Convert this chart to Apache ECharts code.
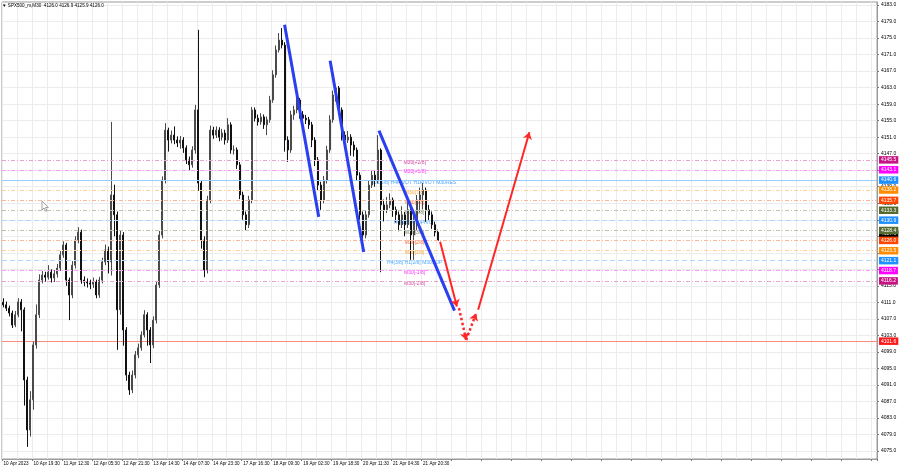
<!DOCTYPE html>
<html>
<head>
<meta charset="utf-8">
<script src="https://cdn.jsdelivr.net/npm/echarts@6/dist/echarts.min.js"></script>
<style>html,body{margin:0;padding:0;background:#fff}#c{width:900px;height:468px}</style>
</head>
<body>
<div id="c"></div>
<script>
// ---------------- data ----------------
const titleText = '▼ SPX500_m,M30  4126.0 4126.9 4125.9 4126.0';
const timeLabels = ['10 Apr 2023','10 Apr 19:30','11 Apr 12:30','12 Apr 05:30','12 Apr 21:30','13 Apr 14:30','14 Apr 07:30','14 Apr 23:30','17 Apr 16:30','18 Apr 09:30','19 Apr 02:30','19 Apr 18:30','20 Apr 11:30','21 Apr 04:30','21 Apr 20:30'];
const yTicks = [4075,4079,4083,4087,4091,4095,4099,4103,4107,4111,4115,4119,4123,4127,4131,4135,4139,4143,4147,4151,4155,4159,4163,4167,4171,4175,4179,4183];
const yMin = 4073.07, yMax = 4183.73;
const slotCount = 292;

const opens = [4111.0,4110.4,4109.6,4108.4,4105.5,4108.0,4111.1,4109.2,4092.2,4080.1,
4087.4,4100.7,4108.0,4116.4,4117.6,4117.1,4118.3,4116.9,4117.9,4119.3,
4122.5,4124.9,4116.4,4112.8,4120.0,4126.1,4128.0,4116.4,4115.9,4115.7,
4115.4,4115.9,4112.8,4116.4,4120.8,4123.7,4120.8,4137.0,4132.2,4109.2,
4127.3,4104.3,4093.4,4089.8,4093.4,4098.3,4100.0,4103.1,4108.0,4104.3,
4100.7,4106.7,4115.2,4127.3,4140.6,4152.7,4150.3,4151.5,4150.3,4149.6,
4150.3,4148.4,4145.5,4144.3,4147.9,4157.6,4139.9,4126.1,4118.8,4135.8,
4152.7,4151.5,4152.7,4151.0,4152.0,4150.3,4154.0,4147.9,4147.9,4144.3,
4137.0,4132.2,4129.8,4135.8,4157.6,4155.6,4154.7,4155.9,4154.0,4155.2,
4160.0,4166.1,4172.1,4174.5,4173.3,4150.3,4147.9,4156.4,4157.6,4160.0,
4156.4,4155.6,4155.2,4154.0,4150.3,4145.5,4139.4,4135.8,4140.6,4147.9,
4155.2,4161.2,4162.9,4157.6,4151.5,4150.3,4151.0,4149.1,4147.9,4141.8,
4132.2,4127.3,4132.2,4139.4,4141.8,4140.6,4147.9,4134.6,4133.4,4134.6,
4135.8,4133.4,4132.2,4129.8,4132.2,4129.8,4133.4,4127.3,4131.0,4135.8,
4137.0,4138.2,4133.4,4132.2,4129.8,4128.0];
const closes = [4110.4,4109.6,4108.4,4105.5,4108.0,4111.1,4109.2,4092.2,4080.1,4087.4,
4100.7,4108.0,4116.4,4117.6,4117.1,4118.3,4116.9,4117.9,4119.3,4122.5,
4124.9,4116.4,4112.8,4120.0,4126.1,4128.0,4116.4,4115.9,4115.7,4115.4,
4115.9,4112.8,4116.4,4120.8,4123.7,4120.8,4137.0,4132.2,4109.2,4127.3,
4104.3,4093.4,4089.8,4093.4,4098.3,4100.0,4103.1,4108.0,4104.3,4100.7,
4106.7,4115.2,4127.3,4140.6,4152.7,4150.3,4151.5,4150.3,4149.6,4150.3,
4148.4,4145.5,4144.3,4147.9,4157.6,4139.9,4126.1,4118.8,4135.8,4152.7,
4151.5,4152.7,4151.0,4152.0,4150.3,4154.0,4147.9,4147.9,4144.3,4137.0,
4132.2,4129.8,4135.8,4157.6,4155.6,4154.7,4155.9,4154.0,4155.2,4160.0,
4166.1,4172.1,4174.5,4173.3,4150.3,4147.9,4156.4,4157.6,4160.0,4156.4,
4155.6,4155.2,4154.0,4150.3,4145.5,4139.4,4135.8,4140.6,4147.9,4155.2,
4161.2,4162.9,4157.6,4151.5,4150.3,4151.0,4149.1,4147.9,4141.8,4132.2,
4127.3,4132.2,4139.4,4141.8,4140.6,4147.9,4134.6,4133.4,4134.6,4135.8,
4133.4,4132.2,4129.8,4132.2,4129.8,4133.4,4127.3,4131.0,4135.8,4137.0,
4138.2,4133.4,4132.2,4129.8,4128.0,4126.0];
const highs = [4112.0,4111.2,4110.2,4109.0,4108.9,4112.0,4111.8,4109.8,4093.0,4089.5,
4101.5,4110.5,4117.8,4118.6,4118.4,4120.0,4119.0,4118.8,4120.3,4123.4,
4125.8,4125.4,4117.0,4121.0,4127.0,4129.2,4128.6,4117.3,4116.8,4116.5,
4117.0,4116.5,4117.2,4121.8,4125.0,4124.5,4154.7,4139.5,4133.0,4128.5,
4128.0,4105.0,4094.2,4094.5,4099.2,4101.0,4104.0,4109.1,4108.6,4105.0,
4107.6,4116.2,4128.3,4141.5,4154.4,4153.3,4152.6,4153.6,4151.2,4151.3,
4151.0,4149.0,4146.3,4148.8,4158.8,4177.0,4140.6,4127.0,4136.8,4153.8,
4153.5,4153.6,4153.4,4153.0,4152.8,4155.6,4154.6,4149.0,4148.5,4145.0,
4137.8,4133.0,4136.8,4158.3,4158.2,4156.5,4156.8,4156.5,4156.0,4161.0,
4167.2,4173.2,4176.2,4177.4,4174.0,4151.2,4157.4,4158.6,4160.7,4160.5,
4157.3,4156.4,4155.9,4154.7,4151.0,4146.2,4140.2,4141.6,4148.9,4156.3,
4162.3,4163.6,4163.4,4158.2,4152.4,4152.5,4151.7,4150.0,4148.5,4142.5,
4133.0,4133.2,4140.4,4142.8,4143.0,4151.5,4148.3,4135.9,4136.5,4137.4,
4136.4,4134.2,4133.0,4134.3,4132.9,4135.2,4134.2,4133.0,4137.0,4138.8,
4139.9,4138.8,4134.6,4133.0,4130.5,4128.6];
const lows = [4109.8,4108.9,4107.6,4104.8,4105.0,4107.4,4104.0,4086.0,4076.0,4078.5,
4085.0,4099.8,4107.2,4115.6,4116.0,4116.5,4115.8,4115.9,4117.0,4118.6,
4121.8,4115.0,4106.7,4112.0,4119.2,4125.3,4115.5,4114.9,4114.6,4114.2,
4114.5,4112.0,4112.1,4115.6,4120.0,4118.0,4117.5,4127.0,4099.5,4108.0,
4100.5,4092.0,4088.6,4089.0,4092.6,4097.5,4099.3,4102.5,4100.5,4096.3,
4099.9,4105.9,4114.5,4126.5,4139.8,4147.5,4149.5,4149.3,4148.6,4148.2,
4147.2,4144.5,4143.0,4143.6,4147.0,4138.0,4124.0,4117.1,4118.0,4135.0,
4150.6,4150.8,4150.0,4150.2,4149.2,4149.6,4147.0,4146.8,4143.3,4136.0,
4131.0,4128.5,4129.0,4135.0,4154.8,4153.8,4154.0,4153.0,4151.5,4154.5,
4159.3,4165.4,4171.5,4172.5,4147.5,4145.0,4147.2,4155.2,4156.8,4155.5,
4154.7,4154.2,4153.0,4148.6,4144.0,4138.0,4133.4,4135.0,4139.8,4147.2,
4154.5,4159.6,4156.4,4150.2,4149.4,4149.6,4146.5,4146.3,4140.6,4131.0,
4123.7,4126.5,4131.5,4138.7,4139.0,4139.8,4118.3,4130.6,4132.6,4133.8,
4131.7,4130.3,4128.2,4129.0,4127.0,4129.0,4121.3,4121.3,4128.5,4132.8,
4133.5,4130.5,4130.8,4128.8,4127.0,4125.9];

const levelPrices = [4145.5,4143.1,4140.6,4138.2,4135.7,4133.3,4130.9,4128.4,4126.0,4123.5,4121.1,4118.7,4116.2];
const levelTexts = ['M30[+2/8]','M30[+1/8]','D1[5/8] H4PIVOT H1PIVOT M30RES','M30[7/8]','M30[6/8]','M30[5/8]','H4[6/8] M30PIVOT','M30[3/8]','M30[2/8]','M30[1/8]','H4[3/8] H1[2/8] M30SUP','M30[-1/8]','M30[-2/8]'];
const levelColors = ['#c71585','#ff00ff','#1e90ff','#ff8c00','#ff4500','#556b2f','#1e90ff','#556b2f','#ff4500','#ff8c00','#1e90ff','#ff00ff','#c71585'];
const levelLineColors = ['#e9a1ce','#ff99ff','#9acdff','#ffd199','#ffb599','#bbc4ac','#b0d8ff','#bbc4ac','#ffb599','#ffd199','#b0d8ff','#ff99ff','#e9a1ce'];
const levelLineTypes = ['dashdot','dashdot','solid','dashdot','dashdot','dashdot','dashed','dashdot','dashdot','dashdot','dashed','dashdot','dashdot'];
const targetPrice = 4101.6;
const askPrice = 4127.6;
const levelTextSlot = 137.2;

// trend drawings: [slot1, price1, slot2, price2]
const blueLines = [[93.8,4178.2,105.2,4131.7],[109.0,4169.5,120.2,4123.2],[125.3,4152.6,150.5,4109.0]];
const redSolid = [[145.7,4125.7,151.3,4110.0],[158.4,4109.2,175.5,4152.2]];
const redDotted = [[152.0,4109.6,154.4,4101.9],[154.4,4101.9,157.7,4108.3]];

// ---------------- chart ----------------
const FONT = 'Liberation Sans';
const cats = [];
for (let i = 0; i < slotCount; i++) cats.push(String(i));
const candles = opens.map((o, i) => [o, closes[i], lows[i], highs[i]]);
const dashMap = {solid: 'solid', dashed: [5, 3], dashdot: [4, 2, 1, 2]};

const markData = [{yAxis: askPrice, lineStyle: {color: 'rgba(0,0,0,0)', width: 0}, label: {formatter: askPrice.toFixed(1), backgroundColor: '#000000'}}];
levelPrices.forEach((p, k) => {
  markData.push({yAxis: p, lineStyle: {color: levelLineColors[k], width: 1, type: dashMap[levelLineTypes[k]]},
    label: {formatter: p.toFixed(1), backgroundColor: levelColors[k]}});
});
markData.push({yAxis: targetPrice, lineStyle: {color: 'rgba(0,0,0,0)', width: 0}, label: {formatter: targetPrice.toFixed(1), backgroundColor: '#ff1a1a'}});

const textData = [];
levelTexts.forEach((t, k) => {
  if (t) textData.push({value: [levelTextSlot, levelPrices[k], t], label: {color: levelColors[k]}});
});

const chart = echarts.init(document.getElementById('c'), null, {renderer: 'canvas'});
chart.setOption({
  animation: false,
  backgroundColor: '#ffffff',
  textStyle: {fontFamily: FONT},
  grid: {left: 2, right: 23, top: 2, bottom: 9, show: true, borderColor: '#9b9b9b', borderWidth: 1, containLabel: false, outerBoundsMode: 'none'},
  graphic: [
    {type: 'text', left: 2, top: 3, z: 100, style: {text: titleText, font: '4.6px ' + FONT, fill: '#000'}},
    {type: 'polygon', z: 100, x: 42, y: 201, shape: {points: [[0, 0], [0, 9], [2, 7], [3.6, 10.2], [5, 9.6], [3.5, 6.5], [6.3, 6.5]]},
      style: {fill: '#fff', stroke: '#8a8a8a', lineWidth: 0.8}}
  ],
  xAxis: [{
    type: 'category', data: cats, boundaryGap: true,
    axisLine: {show: true, onZero: false, lineStyle: {color: '#9b9b9b'}},
    axisTick: {show: true, interval: 9, length: 2, lineStyle: {color: '#777'}},
    axisLabel: {show: true, interval: 9, fontSize: 4.6, color: '#000', align: 'left', margin: 2, fontFamily: FONT,
      formatter: (v, idx) => timeLabels[idx / 10] || ''},
    splitLine: {show: true, interval: 4, lineStyle: {color: '#ececec', width: 1}}
  }, {type: 'value', min: -0.5, max: slotCount - 0.5, show: false, position: 'top',
      axisLine: {show: false, onZero: false}, axisTick: {show: false}, axisLabel: {show: false}, splitLine: {show: false}}],
  yAxis: {
    type: 'value', position: 'right', min: yMin, max: yMax, scale: true,
    axisLine: {show: true, onZero: false, lineStyle: {color: '#9b9b9b'}},
    axisTick: {show: true, length: 2, customValues: yTicks, lineStyle: {color: '#777'}},
    axisLabel: {show: true, customValues: yTicks, fontSize: 5, color: '#000', margin: 4, fontFamily: FONT, formatter: v => v.toFixed(1)},
    splitLine: {show: true, lineStyle: {color: '#ececec', width: 1}}
  },
  series: [
    {
      type: 'line', xAxisIndex: 1, yAxisIndex: 0, z: 1, silent: true,
      data: [[0, closes[0]]], showSymbol: false, lineStyle: {width: 0},
      markLine: {
        silent: true, symbol: 'none', animation: false,
        label: {show: true, position: 'end', distance: 2, color: '#fff', fontSize: 5, fontFamily: FONT, padding: [1.5, 2, 1, 2]},
        data: markData
      }
    },
    {
      type: 'lines', coordinateSystem: 'cartesian2d', xAxisIndex: 1, yAxisIndex: 0, z: 1, silent: true,
      symbol: ['none', 'none'], lineStyle: {color: '#ff8a80', width: 1, opacity: 1},
      data: [{coords: [[-0.5, targetPrice], [slotCount - 0.5, targetPrice]]}]
    },
    {
      type: 'scatter', xAxisIndex: 1, yAxisIndex: 0, z: 2, silent: true, symbolSize: 0,
      data: textData,
      label: {show: true, position: 'inside', offset: [0, 2.3], fontSize: 5, fontFamily: FONT, formatter: p => p.data.value[2]}
    },
    {
      type: 'candlestick', xAxisIndex: 0, yAxisIndex: 0, z: 3, barWidth: 1.5, silent: true,
      data: candles,
      itemStyle: {color: '#4a4a4a', color0: '#111111', borderColor: '#4a4a4a', borderColor0: '#111111', borderWidth: 1}
    },
    {
      type: 'lines', coordinateSystem: 'cartesian2d', xAxisIndex: 1, yAxisIndex: 0, z: 5, silent: true,
      symbol: ['none', 'none'], lineStyle: {color: '#2a3ff0', width: 3, opacity: 1},
      data: blueLines.map(b => ({coords: [[b[0], b[1]], [b[2], b[3]]]}))
    },
    {
      type: 'lines', coordinateSystem: 'cartesian2d', xAxisIndex: 1, yAxisIndex: 0, z: 5, silent: true,
      symbol: ['none', 'arrow'], symbolSize: 7, lineStyle: {color: '#ff2626', width: 2, opacity: 1},
      data: redSolid.map(b => ({coords: [[b[0], b[1]], [b[2], b[3]]]}))
    },
    {
      type: 'lines', coordinateSystem: 'cartesian2d', xAxisIndex: 1, yAxisIndex: 0, z: 5, silent: true,
      symbol: ['none', 'arrow'], symbolSize: 7, lineStyle: {color: '#ff2626', width: 2.5, type: [2.5, 2.5], opacity: 1},
      data: redDotted.map(b => ({coords: [[b[0], b[1]], [b[2], b[3]]]}))
    }
  ]
});
</script>
</body>
</html>
